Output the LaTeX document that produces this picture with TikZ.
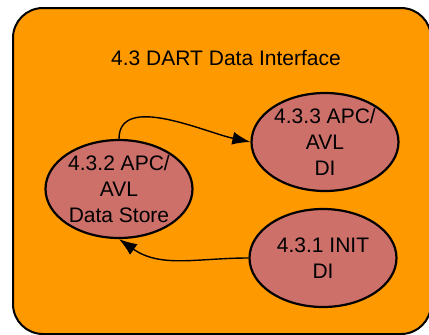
\documentclass[tikz,border=0pt]{standalone}
\usepackage{fontspec}
\setmainfont{Liberation Sans}
\usetikzlibrary{shapes.geometric,arrows.meta}
\definecolor{boxcol}{RGB}{255,153,0}
\definecolor{bubcol}{RGB}{205,112,106}

\begin{document}
\begin{tikzpicture}[
		x=1pt,y=-1pt,
		every node/.style={font=\fontsize{21}{26}\selectfont,align=center},
		bubble/.style={draw,ellipse,fill=bubcol,line width=2.2pt,minimum width=147pt,minimum height=98pt,inner sep=0pt},
		flow/.style={-{Latex[length=18pt,width=13pt]},line width=1.4pt}
	]
	\useasboundingbox (0,0) rectangle (429,335);
	\clip (0,0) rectangle (429,335);
	
	%the context box
		\draw[fill=boxcol,line width=2pt,rounded corners=30pt] (13,8) rectangle (431,334);
		\node (title) at (226,58) {4.3 DART Data Interface};
	%processes
		\node[bubble] (d2) at (119,189) {4.3.2 APC/\\AVL\\Data Store};
		\node[bubble] (d3) at (325,142) {4.3.3 APC/\\AVL\\DI};
		\node[bubble] (d1) at (323,258) {4.3.1 INIT\\DI};
	%flows
		\draw[flow] (d2.north) to[out=90,in=168,looseness=0.9] (d3.west);
		\draw[flow] (d1.west) to[out=180,in=-35] (d2.south);
	\end{tikzpicture}
\end{document}
